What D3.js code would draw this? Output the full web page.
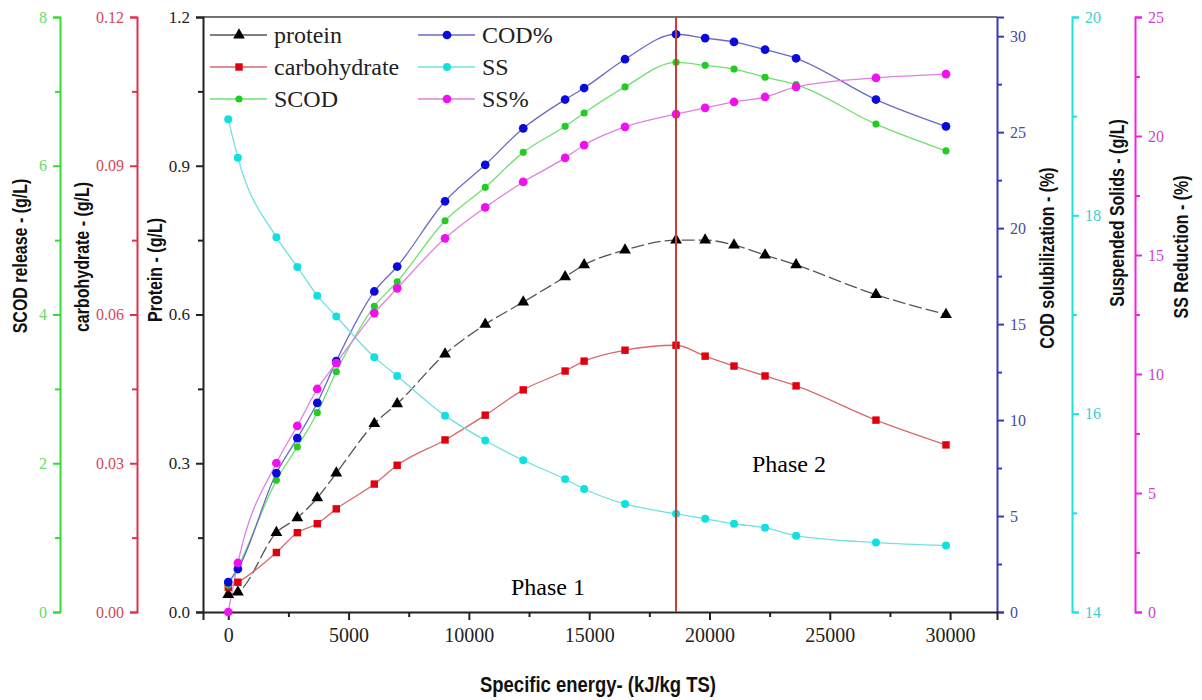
<!DOCTYPE html>
<html>
  <head>
    <title>Specific energy chart</title>
    <script src="https://cdn.jsdelivr.net/npm/d3@7"></script>
    <style>
      body { margin: 0; background: #fff; }
      .title { font-family: "Liberation Sans", Arial, sans-serif; font-weight: bold; }
      .serif { font-family: "Liberation Serif", "Times New Roman", serif; }
    </style>
  </head>
  <body>
    <svg width="1202" height="700" id="mainsvg"></svg>
    <script>
      // ---- data ----
      const energy = [0, 400, 2000, 2870, 3700, 4490, 6070, 7020, 9010, 10680, 12260, 14000, 14790, 16490, 18610, 19820, 21020, 22310, 23600, 26920, 29830];
      const protein = [0.035, 0.04, 0.16, 0.19, 0.23, 0.28, 0.38, 0.42, 0.52, 0.58, 0.625, 0.676, 0.70, 0.73, 0.75, 0.75, 0.74, 0.72, 0.70, 0.64, 0.60];
      const carbohydrate = [0.005, 0.006, 0.012, 0.016, 0.0178, 0.0208, 0.0258, 0.0296, 0.0347, 0.0397, 0.0448, 0.0486, 0.0506, 0.0528, 0.0538, 0.0516, 0.0496, 0.0476, 0.0456, 0.0387, 0.0337];
      const scod = [0.36, 0.6, 1.77, 2.22, 2.68, 3.23, 4.11, 4.44, 5.26, 5.71, 6.18, 6.53, 6.71, 7.06, 7.39, 7.35, 7.30, 7.19, 7.09, 6.56, 6.20];
      const codPct = [1.56, 2.24, 7.24, 9.06, 10.9, 13.07, 16.7, 18.0, 21.4, 23.3, 25.2, 26.7, 27.3, 28.8, 30.1, 29.9, 29.7, 29.3, 28.85, 26.7, 25.3];
      const ss = [18.97, 18.58, 17.78, 17.48, 17.19, 16.98, 16.57, 16.38, 15.98, 15.73, 15.53, 15.34, 15.24, 15.09, 14.99, 14.94, 14.89, 14.85, 14.77, 14.70, 14.67];
      const ssPct = [0, 2.06, 6.26, 7.82, 9.37, 10.46, 12.56, 13.6, 15.7, 17.0, 18.07, 19.08, 19.62, 20.38, 20.92, 21.18, 21.43, 21.64, 22.06, 22.44, 22.6];
      const phaseSplit = 18610;

      const xTicks = [0, 5000, 10000, 15000, 20000, 25000, 30000];
      const proteinTicks = [0, 0.3, 0.6, 0.9, 1.2];
      const carbTicks = [0, 0.03, 0.06, 0.09, 0.12];
      const scodTicks = [0, 2, 4, 6, 8];
      const codTicks = [0, 5, 10, 15, 20, 25, 30];
      const ssTicks = [14, 16, 18, 20];
      const ssPctTicks = [0, 5, 10, 15, 20, 25];

      const svg = d3.select('#mainsvg');
      const plotTop = 17, plotBottom = 612, plotLeft = 203, plotRight = 997;
      const serifName = 'Liberation Serif';

      const xScale = d3.scaleLinear().domain([-1050, 31950]).range([plotLeft, plotRight]);
      const yProtein = d3.scaleLinear().domain([0, 1.2]).range([plotBottom, plotTop]);
      const yCarb = d3.scaleLinear().domain([0, 0.12]).range([plotBottom, plotTop]);
      const yScod = d3.scaleLinear().domain([0, 8]).range([plotBottom, plotTop]);
      const yCod = d3.scaleLinear().domain([0, 31]).range([plotBottom, plotTop]);
      const ySS = d3.scaleLinear().domain([14, 20]).range([plotBottom, plotTop]);
      const ySSp = d3.scaleLinear().domain([0, 25]).range([plotBottom, plotTop]);

      const minorOf = (ticks) => d3.pairs(ticks).map(p => (p[0] + p[1]) / 2);

      // top frame line
      svg.append('line')
        .attr('x1', plotLeft).attr('x2', plotRight).attr('y1', plotTop).attr('y2', plotTop)
        .attr('stroke', '#444').attr('stroke-width', 1.5);

      // draws one y axis with major + minor ticks
      const drawY = function(scale, ticks, xPos, side, color, labelColor, fmt, fontSize){
        const axisFn = side === 'left' ? d3.axisLeft : d3.axisRight;
        const g = svg.append('g').attr('transform', `translate(${xPos},0)`);
        g.call(axisFn(scale).tickValues(ticks).tickSize(7).tickPadding(6).tickFormat(fmt));
        g.append('g').call(axisFn(scale).tickValues(minorOf(ticks)).tickSize(5).tickFormat(''))
          .selectAll('.domain').remove();
        g.attr('font-family', serifName).attr('font-size', fontSize);
        g.selectAll('.domain').attr('stroke', color).attr('stroke-width', 2);
        g.selectAll('.tick line').attr('stroke', color).attr('stroke-width', 2);
        g.selectAll('.tick text').attr('fill', labelColor)
          .attr('font-family', serifName).attr('font-size', fontSize);
        return g;
      };

      drawY(yScod, scodTicks, 60, 'left', '#33dd33', '#66dd66', d3.format('d'), 16);
      drawY(yCarb, carbTicks, 137, 'left', '#e0304a', '#d04858', d3.format('.2f'), 16);
      drawY(yProtein, proteinTicks, plotLeft, 'left', '#222', '#222', d3.format('.1f'), 17);
      drawY(yCod, codTicks, plotRight, 'right', '#3a3ab8', '#4a4aa8', d3.format('d'), 16);
      drawY(ySS, ssTicks, 1072, 'right', '#22e0e0', '#44cccc', d3.format('d'), 16);
      drawY(ySSp, ssPctTicks, 1135, 'right', '#ee22ee', '#cc44cc', d3.format('d'), 16);

      // x axis
      const xg = svg.append('g').attr('transform', `translate(0,${plotBottom})`);
      xg.call(d3.axisBottom(xScale).tickValues(xTicks).tickSize(8).tickPadding(8).tickFormat(d3.format('d')));
      xg.append('g').call(d3.axisBottom(xScale).tickValues(minorOf(xTicks)).tickSize(5).tickFormat(''))
        .selectAll('.domain').remove();
      xg.attr('font-family', serifName).attr('font-size', 20);
      xg.selectAll('.domain').attr('stroke', '#222').attr('stroke-width', 2);
      xg.selectAll('.tick line').attr('stroke', '#222').attr('stroke-width', 2);
      xg.selectAll('.tick text').attr('fill', '#222')
        .attr('font-family', serifName).attr('font-size', 20);

      // axis titles: bold sans squeezed along the text direction to look narrow
      const squeeze = 0.8;
      const vTitle = (x, y, text) => svg.append('text').attr('class', 'title')
        .attr('transform', `translate(${x},${y}) rotate(-90) scale(${squeeze},1)`)
        .attr('text-anchor', 'middle').attr('dominant-baseline', 'middle')
        .style('font-size', '20px').attr('fill', '#111').text(text);
      vTitle(22, 256, 'SCOD release - (g/L)');
      vTitle(84, 257, 'carbohydrate - (g/L)');
      vTitle(157, 270, 'Protein - (g/L)');
      vTitle(1049, 258, 'COD solubilization - (%)');
      vTitle(1119, 213, 'Suspended Solids - (g/L)');
      vTitle(1183, 247, 'SS Reduction - (%)');

      svg.append('text').attr('class', 'title')
        .attr('transform', `translate(598,692) scale(0.84,1)`)
        .attr('text-anchor', 'middle')
        .style('font-size', '22px').attr('fill', '#111')
        .text('Specific energy- (kJ/kg TS)');

      // series
      const series = [
        {name: 'protein', values: protein, y: yProtein, line: '#555', mark: '#000', shape: d3.symbolTriangle, size: 60, dash: '13,4'},
        {name: 'carbohydrate', values: carbohydrate, y: yCarb, line: '#d86a6a', mark: '#e00010', shape: d3.symbolSquare, size: 55},
        {name: 'SCOD', values: scod, y: yScod, line: '#70e070', mark: '#22cc22', shape: d3.symbolCircle, size: 40},
        {name: 'COD%', values: codPct, y: yCod, line: '#6a6ac8', mark: '#0a0adc', shape: d3.symbolCircle, size: 60},
        {name: 'SS', values: ss, y: ySS, line: '#70e0e0', mark: '#10e0e0', shape: d3.symbolCircle, size: 50},
        {name: 'SS%', values: ssPct, y: ySSp, line: '#e080e0', mark: '#f010f0', shape: d3.symbolCircle, size: 60}
      ];

      const plot = svg.append('g');
      series.forEach(s => {
        const pts = energy.map((e, i) => [e, s.values[i]]);
        const line = d3.line().x(d => xScale(d[0])).y(d => s.y(d[1])).curve(d3.curveMonotoneX);
        plot.append('path').datum(pts)
          .attr('d', line).attr('fill', 'none')
          .attr('stroke', s.line).attr('stroke-width', 1.3)
          .attr('stroke-dasharray', s.dash || null);
      });
      series.forEach(s => {
        const pts = energy.map((e, i) => [e, s.values[i]]);
        plot.selectAll(null).data(pts).join('path')
          .attr('transform', d => `translate(${xScale(d[0])},${s.y(d[1])})`)
          .attr('d', d3.symbol().type(s.shape).size(s.size))
          .attr('fill', s.mark);
      });

      // phase divider
      svg.append('line')
        .attr('x1', xScale(phaseSplit)).attr('x2', xScale(phaseSplit))
        .attr('y1', plotTop).attr('y2', plotBottom)
        .attr('stroke', '#c83c32').attr('stroke-width', 2);

      svg.append('text').attr('class', 'serif').attr('x', 548).attr('y', 595)
        .attr('text-anchor', 'middle').style('font-size', '24px').attr('fill', '#000').text('Phase 1');
      svg.append('text').attr('class', 'serif').attr('x', 789).attr('y', 472)
        .attr('text-anchor', 'middle').style('font-size', '24px').attr('fill', '#000').text('Phase 2');

      // legend, two columns
      const legend = svg.append('g');
      series.forEach((s, i) => {
        const col = Math.floor(i / 3), row = i % 3;
        const x0 = col === 0 ? 210 : 418;
        const cy = 35 + row * 32;
        const lg = legend.append('g');
        lg.append('line').attr('x1', x0).attr('x2', x0 + 57).attr('y1', cy).attr('y2', cy)
          .attr('stroke', s.line).attr('stroke-width', 1.3);
        lg.append('path').attr('transform', `translate(${x0 + 29},${cy})`)
          .attr('d', d3.symbol().type(s.shape).size(s.size)).attr('fill', s.mark);
        lg.append('text').attr('class', 'serif').attr('x', x0 + 64).attr('y', cy + 8)
          .style('font-size', '24px').attr('fill', '#222').text(s.name);
      });
    </script>
  </body>
</html>
